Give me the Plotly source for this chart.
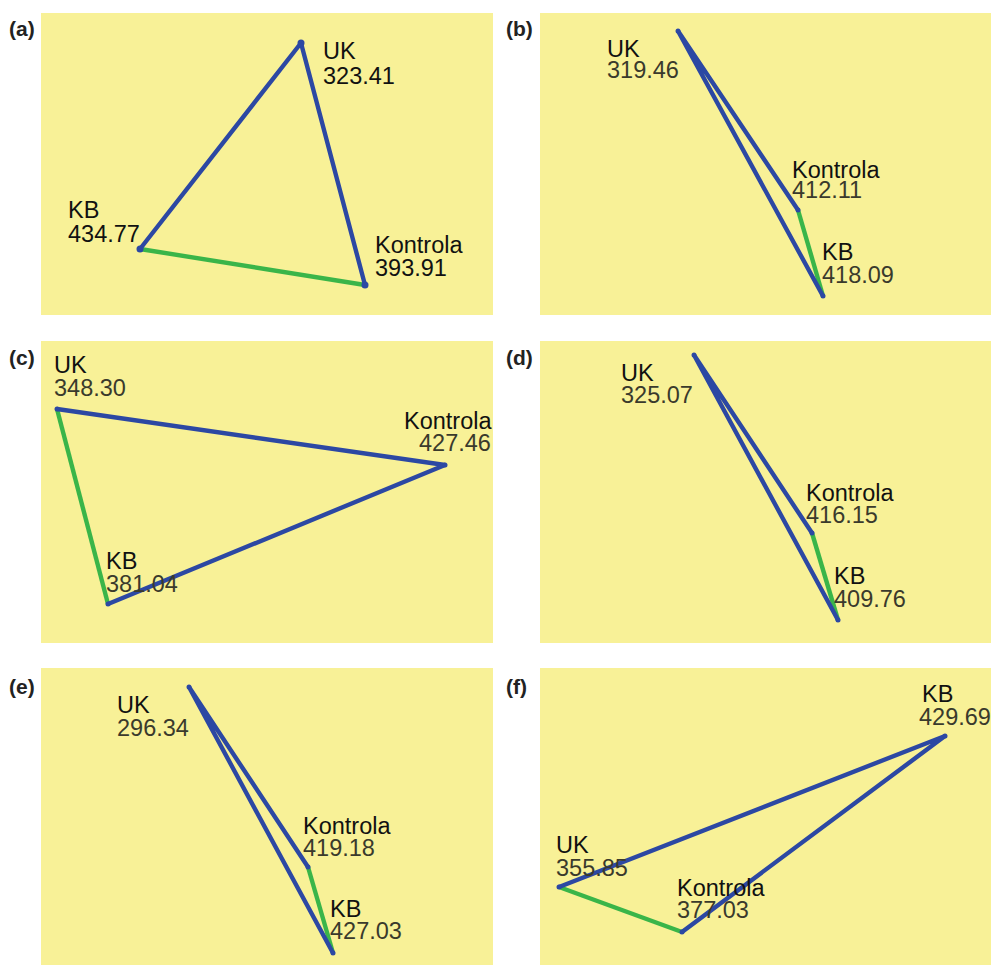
import plotly.graph_objects as go

# ---- data -------------------------------------------------------------
panel_tags = ["(a)", "(b)", "(c)", "(d)", "(e)", "(f)"]
node_names = ["UK", "KB", "Kontrola"]

uk_values = [323.41, 319.46, 348.30, 325.07, 296.34, 355.85]
kb_values = [434.77, 418.09, 381.04, 409.76, 427.03, 429.69]
kontrola_values = [393.91, 412.11, 427.46, 416.15, 419.18, 377.03]

# network layout coordinates of each node inside its panel (x right, y down)
uk_x = [260, 138, 16, 154, 148, 19]
uk_y = [30, 18, 68, 14, 19, 219]
kb_x = [99, 283, 67, 298, 292, 405]
kb_y = [236, 283, 263, 279, 285, 68]
ko_x = [324, 258, 404, 272, 267, 142]
ko_y = [272, 197, 124, 192, 199, 264]

# the highlighted (green) edge of each panel, as a pair of node names
green_edges = [("KB", "Kontrola"), ("Kontrola", "KB"), ("UK", "KB"),
               ("Kontrola", "KB"), ("Kontrola", "KB"), ("UK", "Kontrola")]

# ---- layout / style -----------------------------------------------------
W, H = 991, 965
BG = "#F8F197"
BLUE = "#2C48A3"
GREEN = "#3AB549"
FS = 23.5
FONT = "Liberation Sans, Arial, sans-serif"
BOX_H = 22  # tight text box so the two label lines sit close together

# panel boxes in page pixels: (left, top, right, bottom)
boxes = [(41, 13, 493, 315), (540, 13, 991, 315),
         (41, 341, 493, 643), (540, 341, 991, 643),
         (41, 668, 493, 965), (540, 668, 991, 965)]
# where the panel tag sits (left x, vertical centre) in page pixels
tag_pos = [(7, 29), (504, 29), (7, 357), (504, 357), (7, 686), (504, 686)]

# label placement per panel: node -> (name_left, name_baseline, value_left, value_baseline)
label_pos = [
    {"UK": (280, 48, 280, 73), "KB": (25, 207, 25, 231), "Kontrola": (332, 242, 332, 265)},
    {"UK": (65, 46, 65, 67), "KB": (280, 249, 280, 272), "Kontrola": (250, 167, 250, 187)},
    {"UK": (11, 34, 11, 57), "KB": (63, 229, 63, 252), "Kontrola": (361, 90, 376, 112)},
    {"UK": (79, 42, 79, 64), "KB": (292, 244, 292, 267), "Kontrola": (264, 162, 264, 183)},
    {"UK": (74, 46, 74, 69), "KB": (287, 250, 287, 272), "Kontrola": (260, 167, 260, 189)},
    {"UK": (14, 186, 14, 209), "KB": (380, 35, 377, 58), "Kontrola": (135, 229, 135, 251)},
]

fig = go.Figure()
annotations = []
layout_axes = {}

for i in range(6):
    left, top, right, bottom = boxes[i]
    pw, ph = right - left, bottom - top
    sfx = "" if i == 0 else str(i + 1)
    xa, ya = "x" + sfx, "y" + sfx

    layout_axes["xaxis" + sfx] = dict(
        domain=[left / W, right / W], range=[0, pw], visible=False,
        fixedrange=True, anchor=ya)
    layout_axes["yaxis" + sfx] = dict(
        domain=[1 - bottom / H, 1 - top / H], range=[ph, 0], visible=False,
        fixedrange=True, anchor=xa)

    nodes = {
        "UK": (uk_x[i], uk_y[i], uk_values[i]),
        "KB": (kb_x[i], kb_y[i], kb_values[i]),
        "Kontrola": (ko_x[i], ko_y[i], kontrola_values[i]),
    }
    g1, g2 = green_edges[i]
    third = [n for n in node_names if n not in (g1, g2)][0]

    # green edge first, the two blue edges drawn over it
    fig.add_trace(go.Scatter(
        x=[nodes[g1][0], nodes[g2][0]], y=[nodes[g1][1], nodes[g2][1]],
        mode="lines", line=dict(color=GREEN, width=4.4),
        xaxis=xa, yaxis=ya, hoverinfo="skip", showlegend=False))
    path = [g1, third, g2]
    fig.add_trace(go.Scatter(
        x=[nodes[n][0] for n in path], y=[nodes[n][1] for n in path],
        mode="lines+markers", line=dict(color=BLUE, width=4.4),
        marker=dict(color=BLUE, size=7 if i == 0 else 5),
        xaxis=xa, yaxis=ya, hoverinfo="skip", showlegend=False))

    value_color = "#111111" if i == 0 else "#3a3a2c"
    for n in node_names:
        nx, nb, vx, vb = label_pos[i][n]
        annotations.append(dict(
            text=n, x=nx, y=nb + 3.5, xref=xa, yref=ya, height=BOX_H,
            xanchor="left", yanchor="bottom", showarrow=False,
            font=dict(family=FONT, size=FS, color="#111111")))
        annotations.append(dict(
            text=f"{nodes[n][2]:.2f}", x=vx, y=vb + 3.5, xref=xa, yref=ya,
            height=BOX_H, xanchor="left", yanchor="bottom", showarrow=False,
            font=dict(family=FONT, size=FS, color=value_color)))

    tx, ty = tag_pos[i]
    annotations.append(dict(
        text=f"<b>{panel_tags[i]}</b>", x=tx / W, y=1 - ty / H,
        xref="paper", yref="paper", xanchor="left", yanchor="middle",
        showarrow=False, font=dict(family=FONT, size=21, color="#222222")))

fig.update_layout(
    width=W, height=H,
    margin=dict(l=0, r=0, t=0, b=0),
    paper_bgcolor="white", plot_bgcolor=BG,
    annotations=annotations, showlegend=False,
    **layout_axes)

fig.write_html("out.html", config={"displayModeBar": False})
